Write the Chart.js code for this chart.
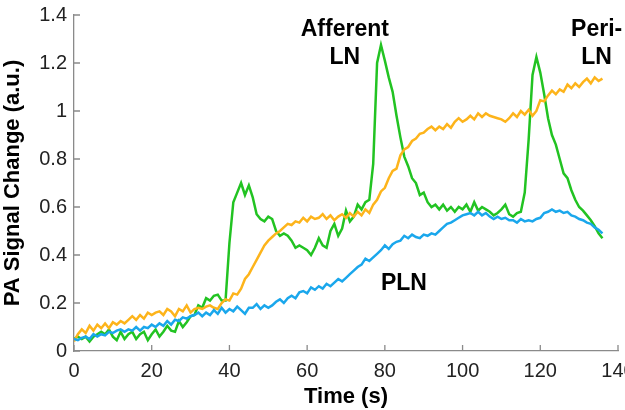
<!DOCTYPE html>
<html>
<head>
<meta charset="utf-8">
<script src="https://cdn.jsdelivr.net/npm/chart.js@4.4.1/dist/chart.umd.min.js"></script>
<style>
  html, body { margin: 0; padding: 0; background: #fff; }
  #wrap { width: 625px; height: 410px; }
</style>
</head>
<body>
<div id="wrap"><canvas id="paChart"></canvas></div>
<script>
// time in seconds
const times = [0,1,2,3,4,5,6,7,8,9,10,11,12,13,14,15,16,17,18,19,20,21,22,23,24,25,26,27,28,29,
  30,31,32,33,34,35,36,37,38,39,40,41,42,43,44,45,46,47,48,49,50,51,52,53,54,55,56,57,58,59,
  60,61,62,63,64,65,66,67,68,69,70,71,72,73,74,75,76,77,78,79,80,81,82,83,84,85,86,87,88,89,
  90,91,92,93,94,95,96,97,98,99,100,101,102,103,104,105,106,107,108,109,110,111,112,113,114,
  115,116,117,118,119,120,121,122,123,124,125,126,127,128,129,130,131,132,133,134,135,136];

const afferentLN = [0.05,0.06,0.05,0.06,0.04,0.06,0.07,0.08,0.07,0.09,0.06,0.045,0.08,0.05,0.07,
  0.08,0.05,0.07,0.08,0.045,0.07,0.09,0.06,0.08,0.105,0.085,0.08,0.125,0.10,0.12,
  0.145,0.15,0.19,0.18,0.22,0.21,0.23,0.235,0.21,0.21,0.45,0.62,0.66,0.70,0.65,
  0.69,0.64,0.57,0.55,0.54,0.56,0.55,0.50,0.48,0.49,0.48,0.46,0.43,0.44,0.43,
  0.42,0.40,0.43,0.47,0.44,0.43,0.50,0.53,0.48,0.51,0.585,0.54,0.56,0.61,0.59,
  0.62,0.63,0.78,1.20,1.275,1.21,1.14,1.08,0.98,0.89,0.81,0.77,0.72,0.70,0.65,
  0.66,0.62,0.60,0.61,0.59,0.61,0.585,0.60,0.58,0.60,0.59,0.61,0.58,0.62,0.585,
  0.60,0.59,0.58,0.565,0.575,0.59,0.61,0.57,0.56,0.575,0.58,0.66,0.88,1.15,1.225,
  1.16,1.07,0.97,0.90,0.86,0.80,0.74,0.72,0.67,0.63,0.60,0.585,0.565,0.545,0.52,
  0.49,0.47];

const periLN = [0.04,0.07,0.09,0.075,0.105,0.085,0.11,0.095,0.115,0.095,0.12,0.11,0.125,0.115,0.13,
  0.145,0.13,0.15,0.135,0.16,0.15,0.16,0.165,0.15,0.175,0.165,0.145,0.175,0.165,0.19,
  0.16,0.175,0.18,0.175,0.185,0.19,0.18,0.175,0.20,0.215,0.21,0.24,0.235,0.26,0.30,
  0.32,0.35,0.38,0.41,0.44,0.46,0.475,0.49,0.50,0.515,0.53,0.525,0.54,0.535,0.555,
  0.54,0.56,0.55,0.555,0.57,0.55,0.565,0.545,0.56,0.57,0.555,0.575,0.56,0.58,0.565,
  0.59,0.575,0.61,0.63,0.665,0.68,0.72,0.75,0.76,0.815,0.84,0.85,0.875,0.885,0.905,
  0.91,0.925,0.935,0.92,0.935,0.925,0.945,0.93,0.955,0.97,0.955,0.965,0.98,0.965,0.99,
  0.975,0.99,0.98,0.975,0.97,0.965,0.955,0.97,0.99,0.975,1.0,0.985,1.005,0.98,1.0,
  1.045,1.04,1.065,1.085,1.07,1.09,1.08,1.11,1.095,1.115,1.10,1.12,1.135,1.115,1.14,
  1.125,1.135];

const pln = [0.05,0.045,0.055,0.06,0.05,0.07,0.06,0.07,0.065,0.08,0.075,0.085,0.09,0.08,0.09,
  0.085,0.10,0.085,0.10,0.095,0.11,0.10,0.115,0.105,0.125,0.11,0.13,0.125,0.14,0.135,
  0.145,0.15,0.16,0.145,0.16,0.15,0.17,0.155,0.18,0.16,0.175,0.165,0.185,0.17,0.155,
  0.18,0.18,0.195,0.175,0.19,0.18,0.19,0.205,0.215,0.20,0.22,0.23,0.22,0.245,0.25,
  0.24,0.265,0.255,0.27,0.26,0.28,0.27,0.285,0.30,0.29,0.305,0.32,0.335,0.35,0.36,
  0.385,0.375,0.39,0.405,0.42,0.44,0.425,0.445,0.455,0.46,0.48,0.47,0.485,0.475,0.47,
  0.485,0.48,0.49,0.485,0.50,0.515,0.53,0.535,0.545,0.555,0.565,0.57,0.575,0.565,0.58,
  0.565,0.575,0.56,0.55,0.56,0.55,0.555,0.545,0.545,0.535,0.55,0.54,0.545,0.54,0.55,
  0.555,0.575,0.58,0.59,0.58,0.585,0.575,0.58,0.565,0.56,0.55,0.545,0.535,0.53,0.515,
  0.505,0.49];

const xTicks = [0, 20, 40, 60, 80, 100, 120, 140];
const yTicks = [0, 0.2, 0.4, 0.6, 0.8, 1, 1.2, 1.4];

// curve labels: [text lines, time, value]
const labels = [
  [['Afferent', 'LN'], 69.7, 1.337],
  [['Peri-', 'LN'], 134.5, 1.337],
  [['PLN'], 84.9, 0.28]
];

const toPoints = (vals) => vals.map((v, i) => ({ x: times[i], y: v }));

Chart.defaults.font.family = '"Liberation Sans", Arial, sans-serif';
Chart.defaults.color = '#222';

// MATLAB style inward ticks + curve labels
const extras = {
  id: 'extras',
  afterDraw(chart) {
    const c = chart.ctx;
    const xs = chart.scales.x, ys = chart.scales.y;
    const area = chart.chartArea;
    c.save();
    c.strokeStyle = '#8a8a8a';
    c.lineWidth = 1.3;
    c.beginPath();
    xTicks.forEach(t => {
      const px = xs.getPixelForValue(t);
      c.moveTo(px, area.bottom);
      c.lineTo(px, area.bottom - 6);
    });
    yTicks.forEach(t => {
      const py = ys.getPixelForValue(t);
      c.moveTo(area.left, py);
      c.lineTo(area.left + 6, py);
    });
    c.stroke();

    c.fillStyle = '#000';
    c.font = 'bold 23px "Liberation Sans", Arial, sans-serif';
    c.textAlign = 'center';
    c.textBaseline = 'middle';
    labels.forEach(([lines, t, v]) => {
      const px = xs.getPixelForValue(t);
      const py = ys.getPixelForValue(v);
      lines.forEach((s, k) => c.fillText(s, px, py + k * 28));
    });
    c.restore();
  }
};

const ctx = document.getElementById('paChart').getContext('2d');
const paChart = new Chart(ctx, {
  type: 'line',
  data: {
    datasets: [
      {
        label: 'PLN',
        data: toPoints(pln),
        borderColor: '#1aa7ec',
        borderWidth: 2.5,
        pointRadius: 0,
        tension: 0
      },
      {
        label: 'Peri-LN',
        data: toPoints(periLN),
        borderColor: '#fdb41b',
        borderWidth: 2.5,
        pointRadius: 0,
        tension: 0
      },
      {
        label: 'Afferent LN',
        data: toPoints(afferentLN),
        borderColor: '#22c322',
        borderWidth: 2.5,
        pointRadius: 0,
        tension: 0
      }
    ]
  },
  options: {
    responsive: true,
    maintainAspectRatio: false,
    animation: false,
    layout: { padding: { top: 15, right: 7, left: 0, bottom: 0 } },
    plugins: {
      legend: { display: false },
      tooltip: { enabled: false }
    },
    scales: {
      x: {
        type: 'linear',
        min: 0,
        max: 140,
        afterBuildTicks: (s) => { s.ticks = xTicks.map(v => ({ value: v })); },
        afterFit: (s) => { s.paddingRight = 0; s.paddingLeft = 0; s.height = 59; },
        grid: { display: false, drawTicks: false },
        border: { display: true, color: '#8a8a8a', width: 1.3 },
        ticks: { padding: 8, font: { size: 20 }, color: '#222', maxRotation: 0 },
        title: {
          display: true,
          text: 'Time (s)',
          font: { size: 22, weight: 'bold' },
          color: '#000',
          padding: { top: 4, bottom: 0 }
        }
      },
      y: {
        min: 0,
        max: 1.4,
        afterBuildTicks: (s) => { s.ticks = yTicks.map(v => ({ value: v })); },
        afterFit: (s) => { s.width = 74; s.paddingTop = 0; s.paddingBottom = 0; },
        grid: { display: false, drawTicks: false },
        border: { display: true, color: '#8a8a8a', width: 1.3 },
        ticks: {
          padding: 7,
          font: { size: 20 },
          color: '#222',
          callback: (v) => String(parseFloat(Number(v).toFixed(1)))
        },
        title: {
          display: true,
          text: 'PA Signal Change (a.u.)',
          font: { size: 22, weight: 'bold' },
          color: '#000',
          padding: { top: 0, bottom: 0 }
        }
      }
    }
  },
  plugins: [extras]
});
</script>
</body>
</html>
